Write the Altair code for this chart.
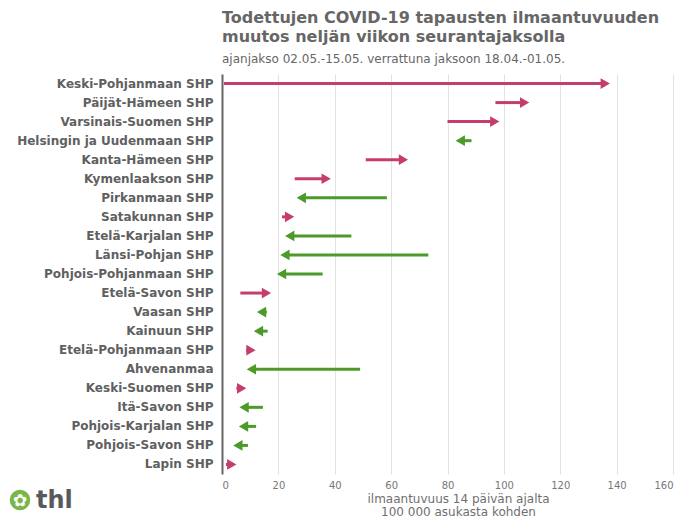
import altair as alt
import pandas as pd

regions = [
    "Keski-Pohjanmaan SHP", "Päijät-Hämeen SHP", "Varsinais-Suomen SHP",
    "Helsingin ja Uudenmaan SHP", "Kanta-Hämeen SHP", "Kymenlaakson SHP",
    "Pirkanmaan SHP", "Satakunnan SHP", "Etelä-Karjalan SHP", "Länsi-Pohjan SHP",
    "Pohjois-Pohjanmaan SHP", "Etelä-Savon SHP", "Vaasan SHP", "Kainuun SHP",
    "Etelä-Pohjanmaan SHP", "Ahvenanmaa", "Keski-Suomen SHP", "Itä-Savon SHP",
    "Pohjois-Karjalan SHP", "Pohjois-Savon SHP", "Lapin SHP",
]
# incidence in previous period (18.04.-01.05.)
before = [0.7, 97.0, 80.0, 88.5, 51.0, 25.8, 58.5, 21.3, 45.9, 73.2,
          35.7, 6.5, 15.9, 16.2, 8.6, 49.0, 5.1, 14.5, 12.1, 9.2, 1.4]
# incidence in current period (02.05.-15.05.)
after = [137.6, 109.0, 98.4, 82.9, 66.0, 38.6, 26.5, 25.6, 22.4, 20.7,
         19.5, 17.4, 12.4, 11.3, 11.9, 8.8, 8.6, 6.2, 6.0, 4.0, 5.1]

df = pd.DataFrame({"alue": regions, "ennen": before, "nyt": after})
df["suunta"] = ["ylös" if a > b else "alas" for a, b in zip(after, before)]

PINK = "#c43d6e"
GREEN = "#4c9a2a"
GREY = "#666666"
FONT = "DejaVu Sans"

W, H = 451, 400

xscale = alt.Scale(domain=[0, 160], nice=False)
yenc = alt.Y(
    "alue:N", sort=regions, title=None,
    scale=alt.Scale(paddingInner=0, paddingOuter=0),
    axis=alt.Axis(domain=True, domainColor=GREY, domainWidth=2, ticks=False,
                  labelFontSize=12, labelFontWeight="bold", labelColor="#606060",
                  labelPadding=9, labelFont=FONT, labelLimit=260),
)
xenc = alt.X(
    "ennen:Q", scale=xscale,
    title=["ilmaantuvuus 14 päivän ajalta", "100 000 asukasta kohden"],
    axis=alt.Axis(values=[0, 20, 40, 60, 80, 100, 120, 140, 160], domain=False, ticks=False,
                  grid=True, gridColor="#e2e2e2", gridWidth=1,
                  labelFontSize=10, labelColor="#777777", labelPadding=6,
                  labelFont=FONT,
                  titleFontSize=12, titleFontWeight="normal", titleColor="#6f6f6f",
                  titleFont=FONT, titlePadding=3, titleX=236, titleLineHeight=13),
)

base = alt.Chart(df)

up = base.transform_filter(alt.datum.suunta == "ylös")
down = base.transform_filter(alt.datum.suunta == "alas")

rule_up = up.mark_rule(strokeWidth=3, color=PINK, x2Offset=-6).encode(
    x=xenc, x2="nyt:Q", y=yenc)
rule_down = down.mark_rule(strokeWidth=3, color=GREEN, x2Offset=6).encode(
    x=xenc, x2="nyt:Q", y=yenc)
head_up = up.mark_point(shape="triangle-right", filled=True, opacity=1, size=115,
                        color=PINK, xOffset=-4.6).encode(
    x=alt.X("nyt:Q", scale=xscale), y=alt.Y("alue:N", sort=regions))
head_down = down.mark_point(shape="triangle-left", filled=True, opacity=1, size=115,
                            color=GREEN, xOffset=4.6).encode(
    x=alt.X("nyt:Q", scale=xscale), y=alt.Y("alue:N", sort=regions))

logo_df = pd.DataFrame({"k": [0]})
logo_circle = alt.Chart(logo_df).mark_point(
    shape="circle", filled=True, opacity=1, size=420, color="#7ab648"
).encode(x=alt.value(-202), y=alt.value(426))
logo_flower = alt.Chart(logo_df).mark_text(
    text="✿", fontSize=17, color="white", align="center", baseline="middle",
    font=FONT
).encode(x=alt.value(-202), y=alt.value(426.5))
logo_text = alt.Chart(logo_df).mark_text(
    text="thl", fontSize=24, fontWeight="bold", color="#58595b", align="left",
    baseline="alphabetic", font=FONT
).encode(x=alt.value(-186), y=alt.value(434))

chart = alt.layer(
    rule_up, rule_down, head_up, head_down, logo_circle, logo_flower, logo_text
).properties(
    width=W,
    height=H,
    autosize=alt.AutoSizeParams(type="none"),
    padding={"left": 214, "top": 66, "right": 8, "bottom": 44},
    title=alt.TitleParams(
        text=["Todettujen COVID-19 tapausten ilmaantuvuuden",
              "muutos neljän viikon seurantajaksolla"],
        subtitle="ajanjakso 02.05.-15.05. verrattuna jaksoon 18.04.-01.05.",
        anchor="start", frame="group", font=FONT, fontSize=16,
        fontWeight="bold", color="#666666", lineHeight=19,
        subtitleFont=FONT, subtitleFontSize=12, subtitleColor="#666666",
        subtitlePadding=9, offset=9,
    ),
).configure_view(stroke=None)

chart.save("out.html", embed_options={"renderer": "svg", "actions": False})
